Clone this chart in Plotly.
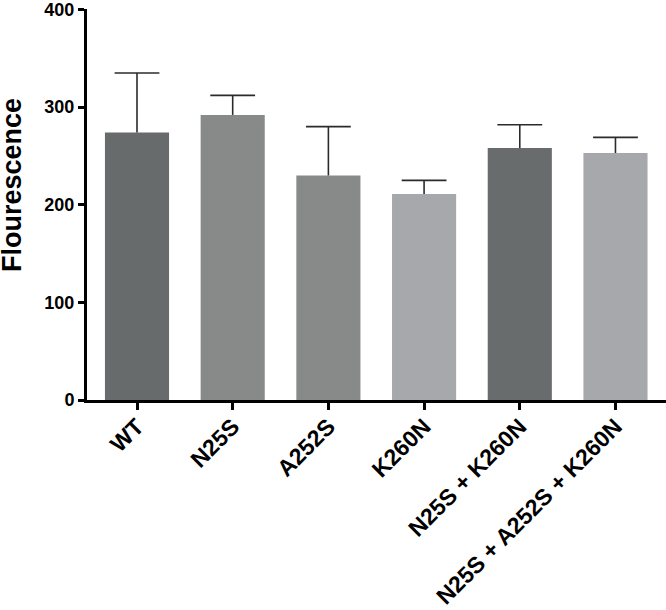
import plotly.graph_objects as go

categories = ["WT", "N25S", "A252S", "K260N", "N25S + K260N", "N25S + A252S + K260N"]
means = [274, 292, 230, 211, 258, 253]
errors = [61, 20, 50, 14, 24, 16]
bar_colors = ["#686b6c", "#888a8a", "#888a8a", "#a6a8ab", "#696c6c", "#a6a8ab"]
y_ticks = [0, 100, 200, 300, 400]
y_title = "Flourescence"

FONT = "Liberation Sans, Arial, sans-serif"
xs = list(range(len(categories)))
cap_y = [m + e for m, e in zip(means, errors)]

fig = go.Figure()
fig.add_trace(go.Bar(
    x=xs,
    y=means,
    width=0.67,
    marker=dict(color=bar_colors, line=dict(width=0)),
    error_y=dict(type="data", symmetric=False, array=errors,
                 arrayminus=[0] * len(errors),
                 color="#2b2b2b", thickness=1.6, width=0),
    showlegend=False,
))
fig.add_trace(go.Scatter(
    x=xs, y=cap_y, mode="markers",
    marker=dict(symbol="line-ew", size=32,
                line=dict(color="#2b2b2b", width=1.6)),
    showlegend=False, hoverinfo="skip",
))

fig.update_layout(
    width=666, height=610,
    margin=dict(l=87, r=0, t=9, b=210, autoexpand=False),
    plot_bgcolor="white", paper_bgcolor="white",
    font=dict(family=FONT, color="black"),
    xaxis=dict(
        range=[-0.5225, 5.528],
        automargin=False,
        tickmode="array",
        tickvals=xs,
        ticktext=["<b>%s</b>" % c for c in categories],
        tickangle=-45,
        tickfont=dict(size=23, family=FONT, color="black"),
        ticklabeloverflow="allow",
        ticklabelstandoff=-6,
        showline=True, linecolor="black", linewidth=3,
        ticks="outside", ticklen=7, tickwidth=3, tickcolor="black",
        showgrid=False, zeroline=False,
    ),
    yaxis=dict(
        range=[0, 400.5],
        automargin=False,
        tickmode="array",
        tickvals=y_ticks,
        ticktext=["<b>%d</b>" % v for v in y_ticks],
        tickfont=dict(size=18, family=FONT, color="black"),
        ticklabeloverflow="allow",
        showline=True, linecolor="black", linewidth=3,
        ticks="outside", ticklen=6, tickwidth=3, tickcolor="black",
        showgrid=False, zeroline=False,
    ),
    annotations=[dict(
        text="<b>%s</b>" % y_title,
        xref="paper", yref="paper",
        x=0, y=0.55, xanchor="center", yanchor="middle",
        xshift=-75, textangle=-90, showarrow=False,
        font=dict(size=27, family=FONT, color="black"),
    )],
)

fig.write_html("out.html", config={"displayModeBar": False},
               post_script="document.body.style.margin='0';document.body.style.overflow='hidden';")
